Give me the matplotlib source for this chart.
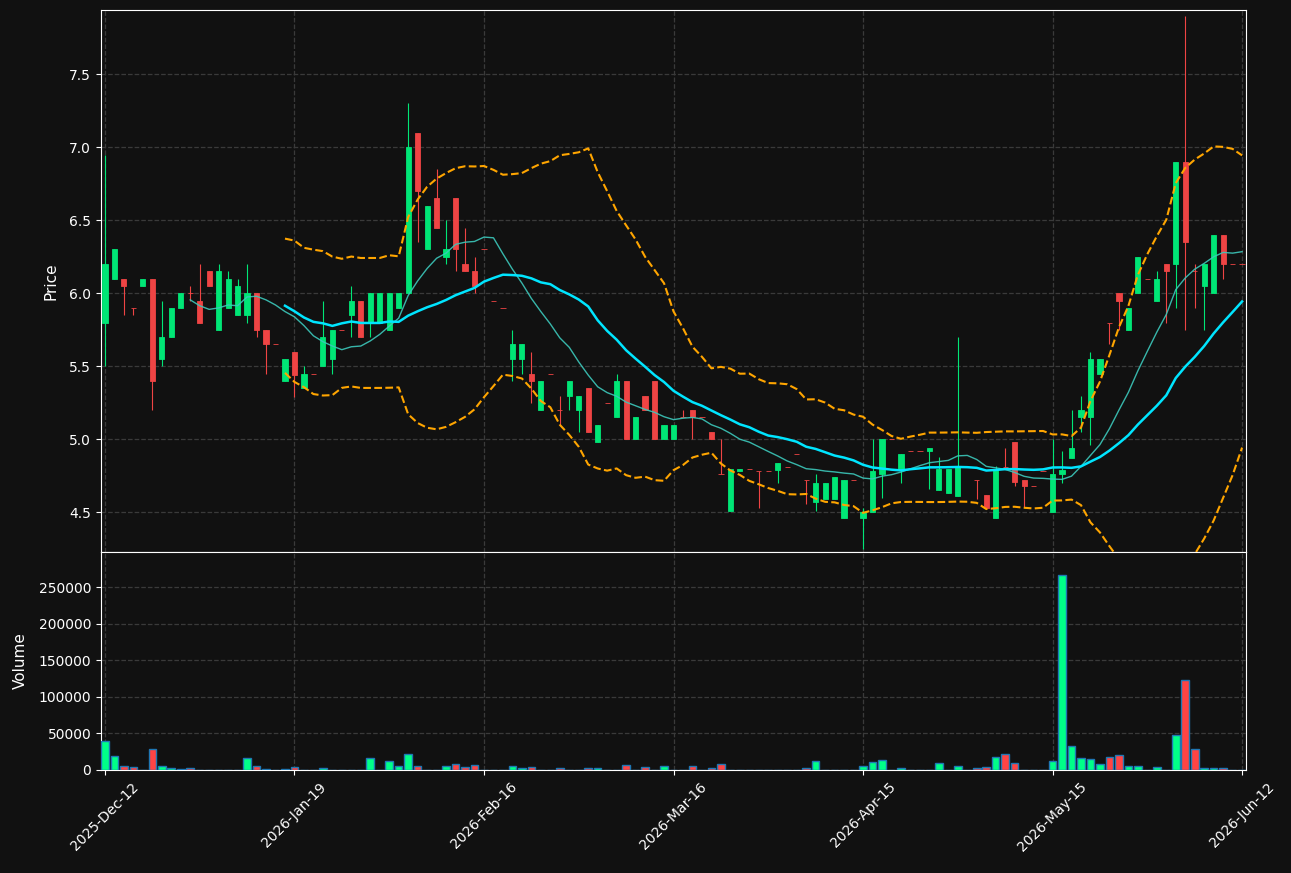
import numpy as np
import pandas as pd
from matplotlib import pyplot as plt

# daily OHLC (one row per trading bar)
opens = [5.80, 6.10, 6.10, 5.90, 6.05, 6.10, 5.55, 5.70, 5.90, 6.00,
         5.95, 6.15, 5.75, 5.90, 5.85, 5.85, 6.00, 5.75, 5.65, 5.40,
         5.60, 5.35, 5.45, 5.50, 5.55, 5.75, 5.85, 5.95, 5.80, 5.80,
         5.75, 5.90, 6.00, 7.10, 6.30, 6.65, 6.25, 6.65, 6.20, 6.15,
         6.30, 5.95, 5.90, 5.55, 5.55, 5.45, 5.20, 5.45, 5.20, 5.30,
         5.20, 5.35, 4.98, 5.25, 5.15, 5.40, 5.00, 5.30, 5.40, 5.00,
         5.00, 5.15, 5.20, 5.15, 5.05, 4.76, 4.51, 4.78, 4.80, 4.78,
         4.78, 4.79, 4.81, 4.90, 4.72, 4.57, 4.59, 4.59, 4.46, 4.72,
         4.46, 4.50, 4.76, 5.00, 4.79, 4.92, 4.92, 4.92, 4.65, 4.63,
         4.61, 4.81, 4.72, 4.62, 4.46, 4.81, 4.98, 4.72, 4.68, 4.78,
         4.50, 4.76, 4.87, 5.15, 5.15, 5.45, 5.80, 6.00, 5.75, 6.00,
         6.10, 5.95, 6.20, 6.20, 6.90, 6.15, 6.05, 6.00, 6.40, 6.20,
         6.20]
highs = [6.95, 6.30, 6.10, 5.90, 6.10, 6.10, 5.95, 5.90, 6.00, 6.05,
         6.20, 6.15, 6.20, 6.15, 6.10, 6.20, 6.00, 5.75, 5.65, 5.55,
         5.60, 5.50, 5.45, 5.95, 5.75, 5.75, 6.05, 5.95, 6.00, 6.00,
         6.00, 6.00, 7.30, 7.10, 6.60, 6.85, 6.50, 6.65, 6.45, 6.25,
         6.30, 5.95, 5.90, 5.75, 5.65, 5.60, 5.40, 5.45, 5.30, 5.40,
         5.30, 5.35, 5.10, 5.25, 5.45, 5.40, 5.15, 5.30, 5.40, 5.10,
         5.10, 5.20, 5.20, 5.15, 5.05, 5.00, 4.80, 4.80, 4.80, 4.78,
         4.78, 4.84, 4.81, 4.90, 4.72, 4.76, 4.70, 4.74, 4.72, 4.72,
         4.53, 5.00, 5.00, 5.00, 4.90, 4.92, 4.92, 4.94, 4.88, 4.80,
         5.70, 4.81, 4.72, 4.62, 4.82, 4.94, 4.98, 4.72, 4.68, 4.78,
         5.00, 4.92, 5.20, 5.30, 5.60, 5.55, 5.80, 6.00, 5.90, 6.25,
         6.10, 6.15, 6.20, 6.90, 7.90, 6.20, 6.20, 6.40, 6.40, 6.20,
         6.20]
lows = [5.50, 6.10, 5.85, 5.85, 6.05, 5.20, 5.50, 5.70, 5.90, 5.95,
        5.80, 6.05, 5.75, 5.90, 5.85, 5.80, 5.70, 5.45, 5.65, 5.40,
        5.29, 5.35, 5.45, 5.50, 5.45, 5.75, 5.70, 5.70, 5.70, 5.80,
        5.75, 5.90, 6.00, 6.35, 6.30, 6.45, 6.20, 6.15, 6.15, 6.00,
        6.30, 5.95, 5.90, 5.40, 5.45, 5.25, 5.20, 5.45, 5.10, 5.20,
        5.05, 5.05, 4.98, 5.25, 5.15, 5.00, 5.00, 5.20, 5.00, 5.00,
        5.00, 5.15, 5.00, 5.15, 5.00, 4.76, 4.51, 4.78, 4.80, 4.53,
        4.78, 4.70, 4.81, 4.90, 4.56, 4.51, 4.59, 4.59, 4.46, 4.72,
        4.25, 4.50, 4.60, 5.00, 4.70, 4.92, 4.92, 4.66, 4.65, 4.63,
        4.61, 4.81, 4.59, 4.53, 4.46, 4.81, 4.68, 4.54, 4.68, 4.78,
        4.50, 4.70, 4.87, 5.05, 4.96, 5.45, 5.65, 5.75, 5.75, 6.00,
        6.10, 5.95, 5.80, 5.90, 5.75, 5.90, 5.75, 6.00, 6.10, 6.20,
        6.20]
closes = [6.20, 6.30, 6.05, 5.90, 6.10, 5.40, 5.70, 5.90, 6.00, 6.00,
          5.80, 6.05, 6.15, 6.10, 6.05, 6.00, 5.75, 5.65, 5.65, 5.55,
          5.44, 5.45, 5.45, 5.70, 5.75, 5.75, 5.95, 5.70, 6.00, 6.00,
          6.00, 6.00, 7.00, 6.70, 6.60, 6.45, 6.30, 6.30, 6.15, 6.05,
          6.30, 5.95, 5.90, 5.65, 5.65, 5.40, 5.40, 5.45, 5.20, 5.40,
          5.30, 5.05, 5.10, 5.25, 5.40, 5.00, 5.15, 5.20, 5.00, 5.10,
          5.10, 5.15, 5.15, 5.15, 5.00, 4.76, 4.80, 4.80, 4.80, 4.78,
          4.78, 4.84, 4.81, 4.90, 4.72, 4.70, 4.70, 4.74, 4.72, 4.72,
          4.50, 4.78, 5.00, 5.00, 4.90, 4.92, 4.92, 4.94, 4.80, 4.80,
          4.81, 4.81, 4.72, 4.53, 4.80, 4.81, 4.71, 4.68, 4.68, 4.78,
          4.76, 4.79, 4.94, 5.20, 5.55, 5.55, 5.80, 5.95, 5.90, 6.25,
          6.10, 6.10, 6.15, 6.90, 6.35, 6.15, 6.20, 6.40, 6.20, 6.20,
          6.20]
volume = [39000, 18500, 5000, 3600, 0, 29300, 5000, 2250, 900, 2250,
          0, 0, 0, 0, 0, 15800, 5000, 900, 0, 900,
          3600, 500, 0, 2250, 0, 0, 500, 500, 15800, 0,
          11700, 5000, 21200, 5000, 500, 500, 5000, 7650, 3600, 6300,
          0, 500, 0, 5000, 2250, 3600, 0, 0, 2250, 0,
          500, 2250, 2250, 0, 500, 6300, 500, 3600, 0, 5000,
          0, 500, 5000, 0, 2250, 7650, 500, 0, 0, 0,
          0, 0, 0, 0, 2250, 11700, 0, 0, 0, 0,
          5000, 10400, 13100, 0, 2250, 0, 0, 0, 9000, 0,
          5000, 0, 2250, 3600, 17100, 22500, 9000, 500, 0, 0,
          11700, 266000, 33300, 15800, 14400, 7650, 17100, 19800, 5000, 5000,
          500, 3600, 500, 48200, 122500, 29300, 2250, 2250, 2250, 0,
          0]
tick_pos = [0, 20, 40, 60, 80, 100, 120]
tick_labels = ["2025-Dec-12", "2026-Jan-19", "2026-Feb-16", "2026-Mar-16",
               "2026-Apr-15", "2026-May-15", "2026-Jun-12"]

bg = "#111111"
up_c, down_c = "#00e676", "#ef4444"
vup_c, vdown_c = "#00ff88", "#ff4444"

o = np.array(opens)
h = np.array(highs)
l = np.array(lows)
c = np.array(closes)
v = np.array(volume)
x = np.arange(len(c))

close_s = pd.Series(c)
ma10 = close_s.rolling(10).mean()
ma20 = close_s.rolling(20).mean()
sd20 = close_s.rolling(20).std(ddof=0)
upper = ma20 + 2 * sd20
lower = ma20 - 2 * sd20

is_up = c > o
col = np.where(is_up, up_c, down_c)
vcol = np.where(is_up, vup_c, vdown_c)

fig = plt.figure(figsize=(12.91, 8.73), dpi=100, facecolor=bg)
ax1 = fig.add_axes([0.0782, 0.3677, 0.887, 0.6208])
ax2 = fig.add_axes([0.0782, 0.118, 0.887, 0.2497], sharex=ax1)

for ax in (ax1, ax2):
    ax.set_facecolor(bg)
    for s in ax.spines.values():
        s.set_color("white")
    ax.tick_params(colors="white", labelsize=10)
    ax.grid(True, color="#3a3a3a", linestyle="--", linewidth=0.9)
    ax.set_axisbelow(True)

# candles
ax1.vlines(x, l, h, color=col, linewidth=0.8, zorder=2)
ax1.bar(x, np.abs(c - o), bottom=np.minimum(o, c), width=0.55,
        color=col, edgecolor=col, linewidth=0.6, zorder=3)

ax1.plot(x, ma10, color="#3cc8bb", linewidth=1, alpha=0.9, zorder=4)
ax1.plot(x, ma20, color="#00e5ff", linewidth=1.8, zorder=4)
ax1.plot(x, upper, color="orange", linestyle="--", linewidth=1.5, zorder=4)
ax1.plot(x, lower, color="orange", linestyle="--", linewidth=1.5, zorder=4)

ax1.set_ylim(l.min() * 0.995, h.max() * 1.005)
ax1.set_xlim(-0.42, 120.42)
ax1.set_ylabel("Price", color="white", fontsize=11, labelpad=8)
ax1.tick_params(axis="x", labelbottom=False, length=0)

# volume
ax2.bar(x, v, width=0.8, color=vcol, edgecolor="#1f77b4", linewidth=1, zorder=3)
ax2.set_ylim(0, v.max() * 1.12)
ax2.ticklabel_format(style="plain", axis="y")
ax2.set_ylabel("Volume", color="white", fontsize=11, labelpad=8)
ax2.set_xticks(tick_pos)
ax2.set_xticklabels(tick_labels, rotation=45)

fig.savefig("out.png", dpi=100, facecolor=bg)
